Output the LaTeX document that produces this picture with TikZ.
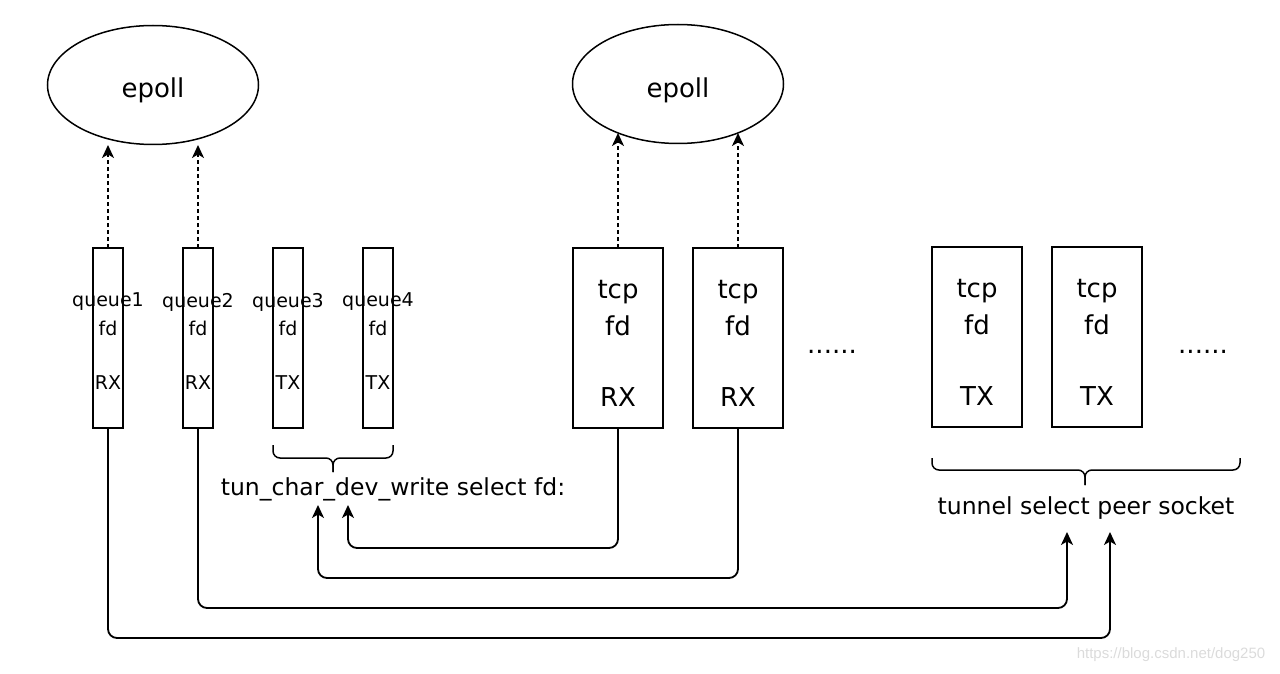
\documentclass[tikz,border=0pt]{standalone}
\usepackage{fontspec}
\setmainfont{DejaVu Sans}
\newfontfamily\wmfont{Liberation Sans}
\usetikzlibrary{arrows.meta,shapes.geometric}
\begin{document}
\begin{tikzpicture}[x=1pt,y=-1pt,
  every node/.style={inner sep=0pt,outer sep=0pt},
  ell/.style={draw,ellipse,line width=1.5pt,minimum width=211pt,minimum height=119pt},
  etxt/.style={font=\fontsize{26}{30}\selectfont},
  qbox/.style={draw,line width=1.6pt,minimum width=30pt,minimum height=180pt},
  tbox/.style={draw,line width=1.6pt,minimum width=90pt,minimum height=180pt},
  qtxt/.style={font=\fontsize{19}{22}\selectfont},
  ttxt/.style={font=\fontsize{26}{37}\selectfont,align=center},
  lbl/.style={font=\fontsize{23.5}{28}\selectfont},
  dots/.style={font=\fontsize{26}{30}\selectfont},
  tip/.style={-{Stealth[length=13pt,width=12pt,inset=3.5pt]}},
  dsh/.style={tip,line width=1.6pt,dash pattern=on 4pt off 3pt},
  conn/.style={tip,line width=1.8pt,rounded corners=9pt},
  brc/.style={line width=1.5pt,rounded corners=7pt}]
\useasboundingbox (0,0) rectangle (1280,674);
% ellipses
\node[ell] (e1) at (153,85) {};
\node[ell] (e2) at (678,84) {};
\node[etxt] (et1) at (153,90) {epoll};
\node[etxt] (et2) at (678,90) {epoll};
% queue boxes
\foreach \i/\x/\d in {1/108/RX,2/198/RX,3/288/TX,4/378/TX}{
  \node[qbox] (q\i) at (\x,338) {};
  \node[qtxt] (qa\i) at (\x,302) {queue\i};
  \node[qtxt] (qb\i) at (\x,328) {fd};
  \node[qtxt] (qc\i) at (\x,383) {\d};
}
% tcp RX boxes
\node[tbox] (r1) at (618,338) {};
\node[tbox] (r2) at (738,338) {};
\node[ttxt] (ra1) at (618,308) {tcp\\fd};
\node[ttxt] (ra2) at (738,308) {tcp\\fd};
\node[ttxt] (rb1) at (618,397) {RX};
\node[ttxt] (rb2) at (738,397) {RX};
\node[dots] (d1) at (832,352) {......};
% tcp TX boxes
\node[tbox] (s1) at (977,337) {};
\node[tbox] (s2) at (1097,337) {};
\node[ttxt] (sa1) at (977,307) {tcp\\fd};
\node[ttxt] (sa2) at (1097,307) {tcp\\fd};
\node[ttxt] (sb1) at (977,396) {TX};
\node[ttxt] (sb2) at (1097,396) {TX};
\node[dots] (d2) at (1203,352) {......};
% braces
\draw[brc] (273,445) -- (273,458) -- (333,458) -- (333,472);
\draw[brc] (393,445) -- (393,458) -- (333,458) -- (333,472);
\draw[brc] (932,458) -- (932,470) -- (1085,470) -- (1085,485);
\draw[brc] (1240,458) -- (1240,470) -- (1085,470) -- (1085,485);
% labels
\node[lbl] (l1) at (393,489) {tun\_char\_dev\_write select fd:};
\node[lbl] (l2) at (1086,508) {tunnel select peer socket};
% dashed arrows to epoll
\coordinate (p1) at (108,145);
\coordinate (p2) at (198,145);
\coordinate (p3) at (618,133);
\coordinate (p4) at (738,133);
\draw[dsh] (q1.north) -- (p1);
\draw[dsh] (q2.north) -- (p2);
\draw[dsh] (r1.north) -- (p3);
\draw[dsh] (r2.north) -- (p4);
% connectors
\coordinate (a1) at (348,505);
\coordinate (a2) at (318,505);
\coordinate (a3) at (1067,532);
\coordinate (a4) at (1110,532);
\draw[conn] (r1.south) -- (618,548) -- (348,548) -- (a1);
\draw[conn] (r2.south) -- (738,578) -- (318,578) -- (a2);
\draw[conn] (q2.south) -- (198,608) -- (1067,608) -- (a3);
\draw[conn] (q1.south) -- (108,638) -- (1110,638) -- (a4);
% watermark
\node[font=\wmfont\fontsize{15}{18}\selectfont,text=black!14] (wm) at (1171,655) {https://blog.csdn.net/dog250};
\end{tikzpicture}
\end{document}
